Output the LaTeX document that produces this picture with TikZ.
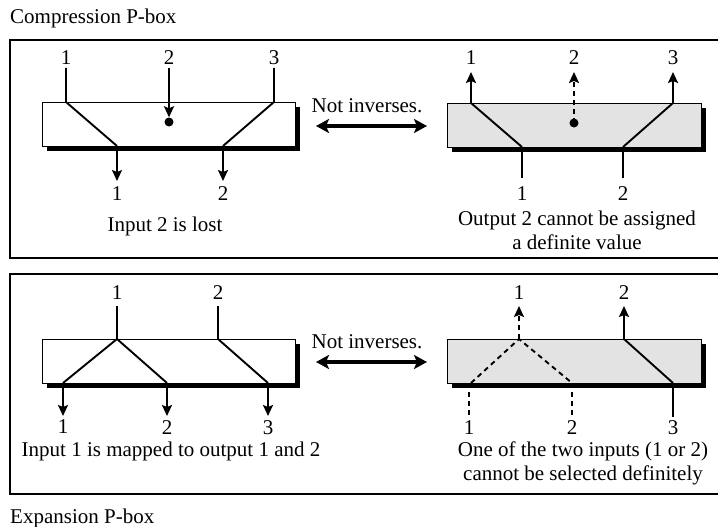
\documentclass[tikz,border=0pt]{standalone}
\usepackage{fontspec}
\setmainfont{Liberation Serif}
\usetikzlibrary{arrows.meta}
\begin{document}
\begin{tikzpicture}[x=1pt,y=-1pt,
  lbl/.style={font=\fontsize{21}{23}\selectfont, inner sep=0pt},
  wire/.style={line width=1.9pt},
  arr/.style={wire,-{Stealth[length=11pt,width=10pt,inset=2pt]}},
  dwire/.style={wire,dash pattern=on 5pt off 4pt},
  darr/.style={dwire,-{Stealth[length=11pt,width=10pt,inset=2pt]}},
  pbox/.style={draw,line width=0.9pt},
  shadowbox/.style={fill=black},
  frame/.style={draw,line width=1.8pt},
  big/.style={line width=3.4pt,{Stealth[length=13pt,width=14pt,inset=3pt]}-{Stealth[length=13pt,width=14pt,inset=3pt]}},
  dot/.style={circle,fill=black,inner sep=0pt,minimum size=9pt}]
\useasboundingbox (0,0) rectangle (718,527);
% frames
\draw[frame] (718,40) -- (10,40) -- (10,258) -- (718,258);
\draw[frame] (718,274) -- (10,274) -- (10,494) -- (718,494);
\node[lbl,anchor=base west] (t1) at (10,24) {Compression P-box};
\node[lbl,anchor=base west] (t2) at (10,523) {Expansion P-box};

% ---------- top left
\fill[shadowbox] (47,107) rectangle (300,151);
\draw[pbox,fill=white] (42,102) rectangle (295,146);
\coordinate (a1t) at (66,68); \coordinate (a1b) at (66,102); \coordinate (a1o) at (117,146); \coordinate (a1e) at (117,181);
\coordinate (a2t) at (169,68); \node[dot] (a2d) at (169,122) {};
\coordinate (a3t) at (274,68); \coordinate (a3b) at (274,102); \coordinate (a3o) at (223,146); \coordinate (a3e) at (223,181);
\draw[wire] (a1t) -- (a1b) -- (a1o);
\draw[arr] (a1o) -- (a1e);
\draw[arr] (a2t) -- (a2d.north);
\draw[wire] (a3t) -- (a3b) -- (a3o);
\draw[arr] (a3o) -- (a3e);
\node[lbl] (la1) at (66,58) {1};
\node[lbl] (la2) at (169,58) {2};
\node[lbl] (la3) at (274,58) {3};
\node[lbl] (lb1) at (117,194) {1};
\node[lbl] (lb2) at (223,194) {2};
\node[lbl] (ta) at (165,226) {Input 2 is lost};

% middle arrow top
\node[lbl] (ni1) at (367,106) {Not inverses.};
\coordinate (na1) at (316,126); \coordinate (na2) at (427,126);
\draw[big] (na1) -- (na2);

% ---------- top right
\fill[shadowbox] (452,108) rectangle (706,152);
\draw[pbox,fill=black!11] (447,103) rectangle (701,147);
\coordinate (b1t) at (471,72); \coordinate (b1b) at (471,103); \coordinate (b1o) at (522,147); \coordinate (b1e) at (522,178);
\coordinate (b2t) at (574,72); \node[dot] (b2d) at (574,123) {};
\coordinate (b3t) at (673,72); \coordinate (b3b) at (673,103); \coordinate (b3o) at (623,147); \coordinate (b3e) at (623,178);
\draw[arr] (b1o) -- (b1b) -- (b1t);
\draw[wire] (b1o) -- (b1e);
\draw[darr] (b2d.center) -- (b2t);
\draw[arr] (b3o) -- (b3b) -- (b3t);
\draw[wire] (b3o) -- (b3e);
\node[lbl] (lc1) at (471,58) {1};
\node[lbl] (lc2) at (574,58) {2};
\node[lbl] (lc3) at (673,58) {3};
\node[lbl] (ld1) at (522,194) {1};
\node[lbl] (ld2) at (623,194) {2};
\node[lbl,align=center] (tb) at (577,230) {Output 2 cannot be assigned\\[1pt]a definite value};

% ---------- bottom left
\fill[shadowbox] (47,344) rectangle (300,388);
\draw[pbox,fill=white] (42,339) rectangle (295,383);
\coordinate (c1t) at (117,306); \coordinate (c1b) at (117,339);
\coordinate (c1o) at (63,383); \coordinate (c2o) at (167,383); \coordinate (c3o) at (268,383);
\coordinate (c1e) at (63,416); \coordinate (c2e) at (167,416); \coordinate (c3e) at (268,416);
\coordinate (c2t) at (218,306); \coordinate (c2b) at (218,339);
\draw[wire] (c1t) -- (c1b) -- (c1o);
\draw[wire] (c1b) -- (c2o);
\draw[wire] (c2t) -- (c2b) -- (c3o);
\draw[arr] (c1o) -- (c1e);
\draw[arr] (c2o) -- (c2e);
\draw[arr] (c3o) -- (c3e);
\node[lbl] (le1) at (117,293) {1};
\node[lbl] (le2) at (218,293) {2};
\node[lbl] (lf1) at (63,427) {1};
\node[lbl] (lf2) at (167,428) {2};
\node[lbl] (lf3) at (268,428) {3};
\node[lbl] (tc) at (171,451) {Input 1 is mapped to output 1 and 2};

% middle arrow bottom
\node[lbl] (ni2) at (367,342) {Not inverses.};
\coordinate (nb1) at (316,362); \coordinate (nb2) at (427,362);
\draw[big] (nb1) -- (nb2);

% ---------- bottom right
\fill[shadowbox] (452,344) rectangle (706,388);
\draw[pbox,fill=black!11] (447,339) rectangle (701,383);
\coordinate (d1t) at (519,306); \coordinate (d1b) at (519,339);
\coordinate (d1o) at (471,383); \coordinate (d2o) at (572,383); \coordinate (d3o) at (673,383);
\coordinate (d1e) at (469,417); \coordinate (d2e) at (572,417); \coordinate (d3e) at (673,417);
\coordinate (d2t) at (624,306); \coordinate (d2b) at (624,339);
\coordinate (d1f) at (469,383);
\draw[dwire] (d1o) -- (d1b) -- (d2o);
\draw[darr] (d1b) -- (d1t);
\draw[dwire] (d1f) -- (d1e);
\draw[dwire] (d2o) -- (d2e);
\draw[arr] (d3o) -- (d2b) -- (d2t);
\draw[wire] (d3o) -- (d3e);
\node[lbl] (lg1) at (519,293) {1};
\node[lbl] (lg2) at (624,293) {2};
\node[lbl] (lh1) at (469,428) {1};
\node[lbl] (lh2) at (572,428) {2};
\node[lbl] (lh3) at (673,428) {3};
\node[lbl,align=center] (td) at (583,463) {One of the two inputs (1 or 2)\\[1pt]cannot be selected definitely};
\end{tikzpicture}
\end{document}
